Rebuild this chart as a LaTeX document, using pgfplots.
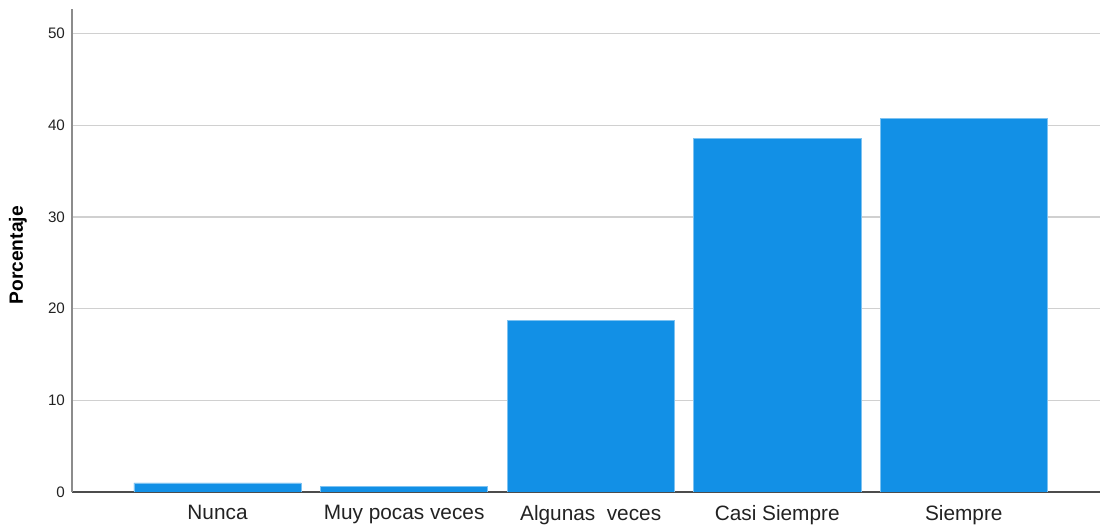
\documentclass[border=0pt]{standalone}
\usepackage{pgfplots}
\pgfplotsset{compat=1.18}
\usepackage{fontspec}
\setmainfont{Liberation Sans}
\usetikzlibrary{calc}
\definecolor{barblue}{RGB}{18,144,230}
\definecolor{gridgray}{RGB}{208,208,208}
\definecolor{axgray}{RGB}{140,140,140}
\definecolor{txt}{RGB}{34,34,34}
\begin{document}
\begin{tikzpicture}
\begin{pgfinterruptboundingbox}
\begin{axis}[
  scale only axis,
  width=514pt, height=241.5pt,
  xmin=-0.78, xmax=4.73,
  ymin=0, ymax=52.7,
  axis x line*=bottom,
  axis y line*=left,
  x axis line style={draw=black!70, line width=0.6pt},
  y axis line style={draw=axgray, line width=0.6pt},
  xtick={0,1,2,3,4},
  xticklabels={Nunca, Muy pocas veces, Algunas\ \ veces, Casi Siempre, Siempre},
  ytick={0,10,20,30,40,50},
  major tick length=0pt,
  ymajorgrids,
  grid style={draw=gridgray, line width=0.6pt},
  tick label style={text=txt},
  yticklabel style={font=\fontsize{7.6}{9}\selectfont},
  xticklabel style={font=\fontsize{10.4}{12}\selectfont, yshift=-3pt},
  /pgf/number format/assume math mode=true,
  ylabel={\textbf{Porcentaje}},
  ylabel style={font=\fontsize{9.6}{11}\selectfont, text=black, at={(axis description cs:0,0.49)}, anchor=center, yshift=27pt},
  ybar, bar width=0.896,
  axis on top=false,
]
\addplot[fill=barblue, draw=barblue!55!white, line width=0.3pt] coordinates {(0,1.0) (1,0.65) (2,18.75) (3,38.6) (4,40.8)};
\end{axis}
\end{pgfinterruptboundingbox}
\useasboundingbox ($(current axis.south west)+(-36pt,-17.5pt)$) rectangle ($(current axis.north east)+(1pt,4.5pt)$);
\end{tikzpicture}
\end{document}
